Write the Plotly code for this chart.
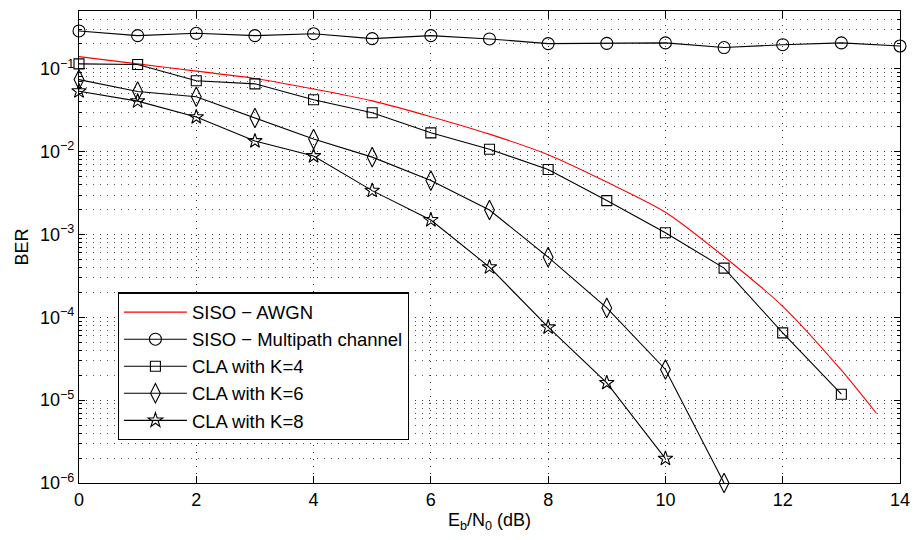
import plotly.graph_objects as go

# ---- data ----
ebn0 = [0, 1, 2, 3, 4, 5, 6, 7, 8, 9, 10, 11, 12, 13, 14]

awgn_x = [0, 1, 2, 3, 4, 5, 6, 7, 8, 9, 10, 11, 12, 13, 13.6]
awgn_ber = [0.1406, 0.115, 0.094, 0.0767, 0.0571, 0.0411, 0.0265, 0.0163,
            0.0092, 0.0043, 0.00186, 0.00054, 1.36e-4, 2.3e-5, 6.9e-6]

multipath_ber = [0.287, 0.252, 0.269, 0.252, 0.266, 0.232, 0.252, 0.230,
                 0.202, 0.203, 0.206, 0.181, 0.196, 0.206, 0.189]

k4_x = [0, 1, 2, 3, 4, 5, 6, 7, 8, 9, 10, 11, 12, 13]
k4_ber = [0.115, 0.113, 0.072, 0.066, 0.0424, 0.0295, 0.0169, 0.0107,
          0.0061, 0.00257, 0.00105, 0.000393, 6.5e-5, 1.18e-5]

k6_x = [0, 1, 2, 3, 4, 5, 6, 7, 8, 9, 10, 11]
k6_ber = [0.0743, 0.0533, 0.046, 0.0255, 0.0142, 0.0086, 0.00448, 0.00198,
          0.000533, 0.00013, 2.35e-5, 1.0e-6]

k8_x = [0, 1, 2, 3, 4, 5, 6, 7, 8, 9, 10]
k8_ber = [0.0538, 0.0408, 0.0262, 0.01346, 0.00887, 0.00339, 0.0015,
          0.000404, 7.6e-5, 1.62e-5, 1.97e-6]

names = ["SISO \u2212 AWGN", "SISO \u2212 Multipath channel",
         "CLA with K=4", "CLA with K=6", "CLA with K=8"]

x_ticks = [0, 2, 4, 6, 8, 10, 12, 14]
y_tickvals = [1e-6, 1e-5, 1e-4, 1e-3, 1e-2, 1e-1]
y_ticktext = ["10<sup>\u22126</sup>", "10<sup>\u22125</sup>", "10<sup>\u22124</sup>",
              "10<sup>\u22123</sup>", "10<sup>\u22122</sup>", "10<sup>\u22121</sup>"]

FONT = "Liberation Sans, Arial, Helvetica, sans-serif"
GRIDDASH = "1px,6px"

fig = go.Figure()

fig.add_trace(go.Scatter(
    x=awgn_x, y=awgn_ber, mode="lines", name=names[0],
    line=dict(color="#ff0000", width=1.1, shape="spline", smoothing=0.8)))

line_style = dict(color="black", width=1.1)

fig.add_trace(go.Scatter(
    x=ebn0, y=multipath_ber, mode="lines+markers", name=names[1],
    line=line_style, cliponaxis=False,
    marker=dict(symbol="circle-open", size=12, color="black",
                line=dict(width=1.1, color="black"))))

fig.add_trace(go.Scatter(
    x=k4_x, y=k4_ber, mode="lines+markers", name=names[2],
    line=line_style, cliponaxis=False,
    marker=dict(symbol="square-open", size=10, color="black",
                line=dict(width=1.1, color="black"))))

fig.add_trace(go.Scatter(
    x=k6_x, y=k6_ber, mode="lines+markers", name=names[3],
    line=line_style, cliponaxis=False,
    marker=dict(symbol="diamond-tall-open", size=14, color="black",
                line=dict(width=1.1, color="black"))))

fig.add_trace(go.Scatter(
    x=k8_x, y=k8_ber, mode="lines+markers", name=names[4],
    line=line_style, cliponaxis=False,
    marker=dict(symbol="star-open", size=11, color="black",
                line=dict(width=1.1, color="black"))))

fig.update_layout(
    width=920, height=540,
    margin=dict(l=79, r=14, t=10, b=57),
    paper_bgcolor="white", plot_bgcolor="white",
    font=dict(family=FONT, size=18, color="black"),
    showlegend=True,
    legend=dict(
        x=(118 - 79) / 827, y=(483 - 292) / 473, xanchor="left", yanchor="top",
        bgcolor="white", bordercolor="black", borderwidth=1.2,
        font=dict(family=FONT, size=18.5, color="black"),
        itemwidth=63,
    ),
)

fig.update_xaxes(
    range=[0, 14], tickvals=x_ticks, ticks="inside", ticklen=7,
    tickwidth=1, tickcolor="black",
    showline=True, linecolor="black", linewidth=1.2, mirror="ticks",
    showgrid=True, gridcolor="#333333", gridwidth=1, griddash=GRIDDASH,
    zeroline=False, tickfont=dict(size=18),
    title=dict(text="E<sub>b</sub>/N<sub>0</sub> (dB)", font=dict(size=18), standoff=4),
)

fig.update_yaxes(
    type="log", range=[-6, -0.301],
    tickvals=y_tickvals, ticktext=y_ticktext,
    ticks="inside", ticklen=6, tickwidth=1, tickcolor="black",
    showline=True, linecolor="black", linewidth=1.2, mirror="ticks",
    showgrid=True, gridcolor="#333333", gridwidth=1, griddash=GRIDDASH,
    zeroline=False, tickfont=dict(size=18),
    minor=dict(ticks="inside", ticklen=3, tickcolor="black", dtick="D1",
               showgrid=True, gridcolor="#555555", gridwidth=1, griddash=GRIDDASH),
    title=dict(text="BER", font=dict(size=18), standoff=6),
)

fig.write_html("out.html")
